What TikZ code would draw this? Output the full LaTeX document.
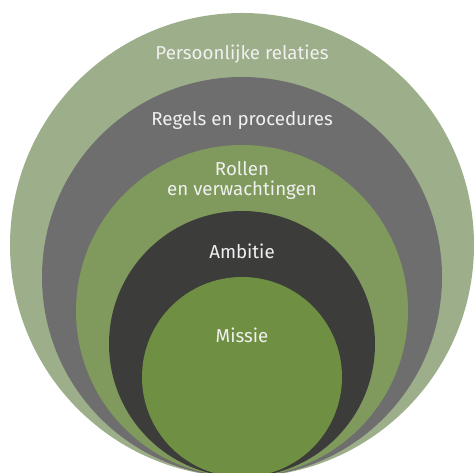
\documentclass[tikz,border=0pt]{standalone}
\usepackage{fontspec}
\setmainfont{Fira Sans}
\usetikzlibrary{calc}
\definecolor{relgroen}{HTML}{9DAE8A}
\definecolor{regelgrijs}{HTML}{6E6E6E}
\definecolor{rolgroen}{HTML}{7F9A5C}
\definecolor{ambzwart}{HTML}{3C3C3B}
\definecolor{misgroen}{HTML}{6F8F42}
\tikzset{
  laag/.style={text=white!94!black, font=\fontsize{18.8}{20}\selectfont, anchor=base, align=center}
}
\begin{document}
\begin{tikzpicture}[x=1bp,y=1bp] %Cirkels van de organisatie
            \useasboundingbox (0,0) rectangle (474,473);
            \clip (0,0) rectangle (474,473);

            \coordinate (R) at (242,-4); % raakpunt onderaan

            \fill[relgroen]   ($(R)+(0,232)$) circle (232);
            \fill[regelgrijs] ($(R)+(0,200)$) circle (200);
            \fill[rolgroen]   ($(R)+(0,166)$) circle (166);
            \fill[ambzwart]   ($(R)+(0,133)$) circle (133);
            \fill[misgroen]   ($(R)+(0,100)$) circle (100);

            \node[laag] (rel) at (242,413) {Persoonlijke relaties};
            \node[laag] (reg) at (242,347) {Regels en procedures};
            \node[laag] (rol) at (242,297) {Rollen};
            \node[laag] (ver) at (242,277) {en verwachtingen};
            \node[laag] (amb) at (242,214) {Ambitie};
            \node[laag] (mis) at (242,130) {Missie};
        \end{tikzpicture}
\end{document}
